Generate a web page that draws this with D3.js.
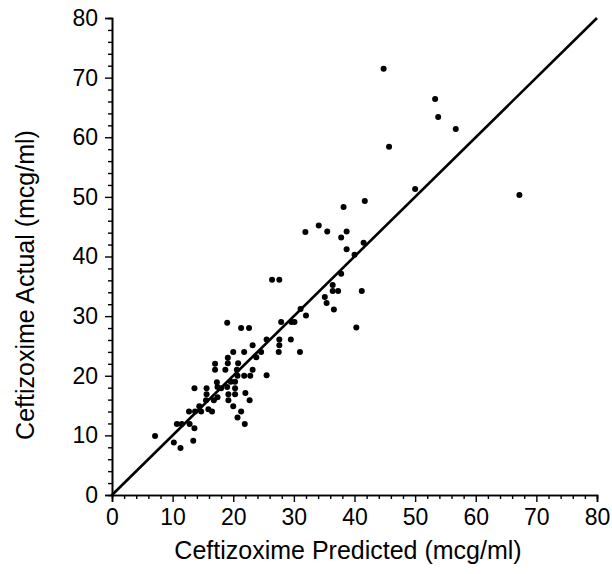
<!DOCTYPE html>
<html>
<head>
<meta charset="utf-8">
<script src="https://cdnjs.cloudflare.com/ajax/libs/d3/7.8.5/d3.min.js"></script>
<style>
  body { margin: 0; background: #fff; }
  text { font-family: "Liberation Sans", Arial, sans-serif; fill: #000; }
</style>
</head>
<body>
<svg id="chart"></svg>
<script>
// predicted vs actual ceftizoxime concentrations
var predicted = [
  44.8, 53.3, 53.8, 56.7, 45.7, 50.0, 67.2,
  38.2, 41.7, 31.9, 34.1, 35.5, 38.7, 37.8, 38.7, 41.5, 40.0, 37.8,
  26.4, 27.6, 36.4, 36.4, 37.3, 41.2, 35.1, 35.4, 36.6, 31.1, 32.0, 40.3,
  27.9, 29.6, 30.1, 29.5, 27.6, 27.6, 27.5, 31.0, 25.5,
  23.2, 24.6, 23.8, 21.3, 22.6, 19.0,
  20.0, 21.8, 19.1, 19.1, 20.8, 17.0, 17.0, 18.7, 20.6, 23.2,
  21.8, 22.8, 20.7, 25.5, 19.6, 20.3, 17.3, 18.0, 13.6, 15.6, 15.6,
  20.3, 20.3, 22.0, 19.2, 19.2, 22.7, 17.4, 15.5, 16.8, 14.4, 20.0,
  12.7, 13.7, 14.7, 15.9, 16.5, 21.3, 20.7, 21.9, 10.7, 11.5, 13.6,
  12.8, 7.1, 10.2, 13.4, 11.3, 19.0, 17.4
];
var actual = [
  71.5, 66.4, 63.4, 61.4, 58.4, 51.3, 50.3,
  48.3, 49.3, 44.1, 45.2, 44.2, 44.2, 43.2, 41.2, 42.3, 40.3, 37.1,
  36.1, 36.1, 35.2, 34.2, 34.2, 34.2, 33.2, 32.2, 31.1, 31.2, 30.1, 28.1,
  29.0, 29.0, 29.0, 26.1, 26.1, 25.1, 24.0, 24.0, 26.1,
  25.1, 24.0, 23.1, 28.0, 28.0, 28.9,
  24.0, 24.0, 23.0, 22.1, 22.1, 22.0, 21.0, 21.0, 21.0, 21.0,
  20.0, 20.0, 20.0, 20.1, 19.0, 19.0, 18.9, 17.9, 17.9, 17.9, 16.9,
  17.9, 16.9, 17.1, 16.9, 15.9, 15.9, 16.4, 15.9, 15.9, 14.9, 14.9,
  14.0, 14.0, 14.0, 14.4, 14.0, 14.0, 13.0, 11.9, 11.9, 11.9, 11.2,
  11.9, 9.9, 8.8, 9.1, 7.9, 18.1, 18.1
];
var majorTicks = [0, 10, 20, 30, 40, 50, 60, 70, 80];
var minorTicks = d3.range(0, 81, 2).filter(d => d % 10 !== 0);
var identityLine = [0, 80];

var width = 612;
var height = 574;
var padding = {
  top: 18,
  right: 15,
  bottom: 79,
  left: 112
};

var svg = d3.select("#chart")
            .attr("width", width)
            .attr("height", height);

var xScale = d3.scaleLinear()
               .domain([0, 80])
               .range([padding.left, width - padding.right]);

var yScale = d3.scaleLinear()
               .domain([0, 80])
               .range([height - padding.bottom, padding.top]);

// axes: major ticks with labels, minor ticks every 2 units
var xAxis = d3.axisBottom(xScale)
              .tickValues(majorTicks)
              .tickSize(7)
              .tickPadding(7);

var xMinor = d3.axisBottom(xScale)
               .tickValues(minorTicks)
               .tickSize(4)
               .tickFormat("");

var yAxis = d3.axisLeft(yScale)
              .tickValues(majorTicks)
              .tickSize(7)
              .tickPadding(7);

var yMinor = d3.axisLeft(yScale)
               .tickValues(minorTicks)
               .tickSize(4)
               .tickFormat("");

svg.append("g")
    .attr("transform", "translate(0," + (height - padding.bottom) + ")")
    .call(xAxis);
svg.append("g")
    .attr("transform", "translate(0," + (height - padding.bottom) + ")")
    .call(xMinor);

svg.append("g")
    .attr("transform", "translate(" + padding.left + ",0)")
    .call(yAxis);
svg.append("g")
    .attr("transform", "translate(" + padding.left + ",0)")
    .call(yMinor);

svg.selectAll(".domain")
    .attr("stroke", "#000")
    .attr("stroke-width", 1.6);
svg.selectAll(".tick line")
    .attr("stroke", "#000")
    .attr("stroke-width", 1.4);
svg.selectAll(".tick text")
    .style("font-size", "23px")
    .attr("fill", "#000");

// axis titles
svg.append("text")
    .attr("x", 348)
    .attr("y", 559)
    .style("text-anchor", "middle")
    .style("font-size", "25px")
    .text("Ceftizoxime Predicted (mcg/ml)");

svg.append("text")
    .attr("transform", "rotate(-90)")
    .attr("x", -285)
    .attr("y", 34)
    .style("text-anchor", "middle")
    .style("font-size", "25px")
    .text("Ceftizoxime Actual (mcg/ml)");

// line of identity
svg.append("line")
    .attr("x1", xScale(identityLine[0]))
    .attr("y1", yScale(identityLine[0]))
    .attr("x2", xScale(identityLine[1]))
    .attr("y2", yScale(identityLine[1]))
    .attr("stroke", "#000")
    .attr("stroke-width", 2.6);

// points
svg.selectAll(".dot")
    .data(predicted)
    .enter()
    .append("circle")
      .classed("dot", true)
      .attr("cx", d => xScale(d))
      .attr("cy", (d, i) => yScale(actual[i]))
      .attr("r", 3)
      .attr("fill", "#000");
</script>
</body>
</html>
